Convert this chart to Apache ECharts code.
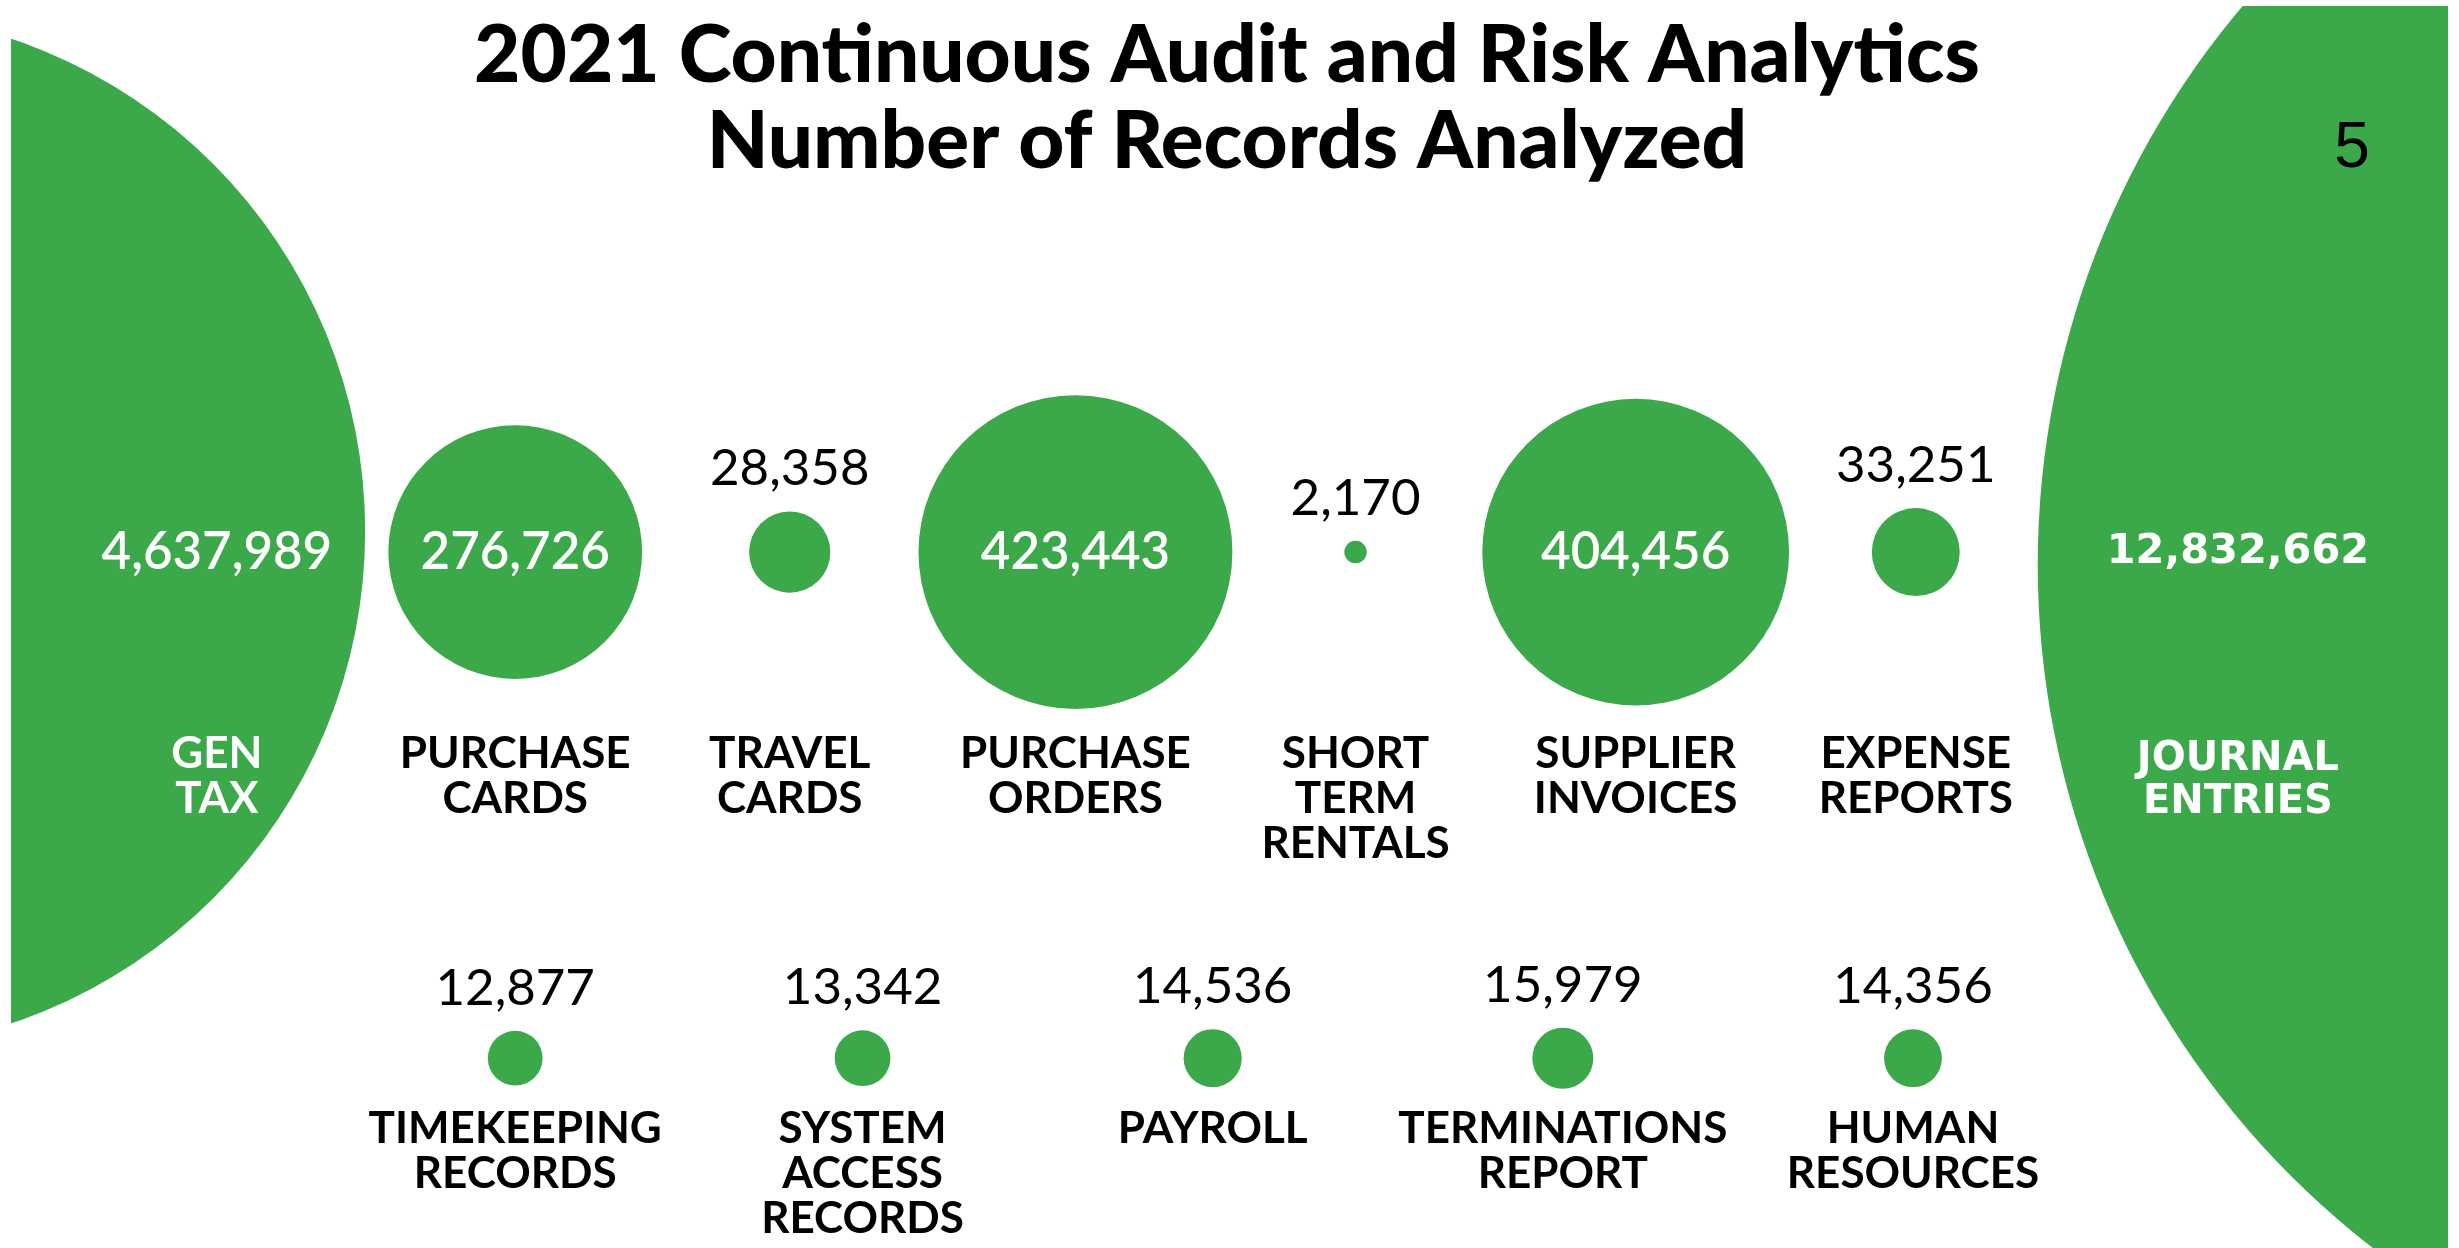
<!DOCTYPE html>
<html><head><meta charset="utf-8">
<script src="https://cdn.jsdelivr.net/npm/echarts@6/dist/echarts.min.js"></script>
<style>html,body{margin:0;padding:0;background:#fff}#chart{width:2459px;height:1248px}</style>
</head><body><div id="chart"></div>
<script>
// ---------- DATA ----------
const topCategories = ['GEN\nTAX', 'PURCHASE\nCARDS', 'TRAVEL\nCARDS', 'PURCHASE\nORDERS', 'SHORT\nTERM\nRENTALS', 'SUPPLIER\nINVOICES', 'EXPENSE\nREPORTS', 'JOURNAL\nENTRIES'];
const topRecords = [4637989, 276726, 28358, 423443, 2170, 404456, 33251, 12832662];
const bottomCategories = ['TIMEKEEPING\nRECORDS', 'SYSTEM\nACCESS\nRECORDS', 'PAYROLL', 'TERMINATIONS\nREPORT', 'HUMAN\nRESOURCES'];
const bottomRecords = [12877, 13342, 14536, 15979, 14356];
const titleLines = ['2021 Continuous Audit and Risk Analytics', 'Number of Records Analyzed'];
const pageNumber = '5';

// ---------- LAYOUT (slots, not data) ----------
const topBubbleSlot = [-1.39, 1, 1.98, 3, 4, 5, 6, 9.52];
const topBubbleRow  = [-0.0415, 0, 0, 0, 0, 0, 0, 0.025];
const topLabelSlot  = [-0.065, 1, 1.98, 3, 4, 5, 6, 7.15];
const bottomSlot    = [1, 2.24, 3.49, 4.74, 5.99];
const TOP_ROW = 0, BOTTOM_ROW = 1;
const TOP_NAME_ROW = 0.355, BOTTOM_NAME_ROW = 1.096, JOURNAL_NAME_ROW = 0.367;
const EDGE = [0, 7];   // indexes of edge (oversized) bubbles

const GREEN = '#3ba84a';
const FONT = 'Lato';
const K = 0.2412;
const diam = v => 2 * K * Math.sqrt(v);
const fmt = v => v.toLocaleString('en-US');

function bubbleItem(v, x, y, hideLabel) {
  const big = diam(v) > 150;
  return {
    value: [x, y, v],
    label: hideLabel ? { show: false } : (big ? {
      show: true, position: 'inside', color: '#fff', fontFamily: FONT, fontWeight: 600, fontSize: 51
    } : {
      show: true, position: 'top', distance: 17, color: '#000', fontFamily: FONT, fontWeight: 400, fontSize: 51
    })
  };
}

const bubbleData = topRecords.map((v, i) => bubbleItem(v, topBubbleSlot[i], topBubbleRow[i], EDGE.includes(i)))
  .concat(bottomRecords.map((v, i) => bubbleItem(v, bottomSlot[i], BOTTOM_ROW, false)));

const nameData = topCategories.map((c, i) => {
  const item = { name: c, value: [topLabelSlot[i], i === 7 ? JOURNAL_NAME_ROW : TOP_NAME_ROW] };
  if (i === 0) item.label = { color: '#fff' };
  if (i === 7) item.label = { color: '#fff', fontFamily: 'DejaVu Sans', fontWeight: 'bold', fontSize: 40, lineHeight: 43 };
  return item;
}).concat(bottomCategories.map((c, i) => ({ name: c, value: [bottomSlot[i], BOTTOM_NAME_ROW] })));

const edgeValueData = EDGE.map(i => {
  const item = { name: fmt(topRecords[i]), value: [topLabelSlot[i], TOP_ROW] };
  if (i === 7) item.label = { fontFamily: 'DejaVu Sans', fontWeight: 'bold', fontSize: 41.5 };
  return item;
});

const W = 2459, H = 1248, ML = 11, MR = 11, MT = 6;
const chart = echarts.init(document.getElementById('chart'), null, { renderer: 'canvas' });
chart.setOption({
  animation: false,
  backgroundColor: '#fff',
  title: [{
    text: titleLines.join('\n'),
    left: 1222, top: 8, textAlign: 'center',
    textStyle: { fontFamily: FONT, fontWeight: 900, fontSize: 80, lineHeight: 86, color: '#000' }
  }, {
    text: pageNumber,
    left: 2347, top: 112, textAlign: 'center',
    textStyle: { fontFamily: 'Liberation Sans', fontWeight: 'normal', fontSize: 64, color: '#000' }
  }],
  // white page margins framing the picture area
  graphic: [
    { type: 'rect', left: 0, top: 0, z: 50, shape: { width: ML, height: H }, style: { fill: '#fff' } },
    { type: 'rect', right: 0, top: 0, z: 50, shape: { width: MR, height: H }, style: { fill: '#fff' } },
    { type: 'rect', left: 0, top: 0, z: 50, shape: { width: W, height: MT }, style: { fill: '#fff' } }
  ],
  grid: { left: ML, right: MR, top: MT, bottom: 0 },
  xAxis: { type: 'value', min: -0.8, max: 7.9, show: false },
  yAxis: { type: 'value', min: -1.079, max: 1.375, inverse: true, show: false },
  series: [{
    type: 'scatter',
    clip: false,
    symbol: 'circle',
    symbolSize: val => diam(val[2]),
    itemStyle: { color: GREEN, opacity: 1 },
    label: { formatter: p => fmt(p.value[2]) },
    data: bubbleData,
    z: 1
  }, {
    type: 'scatter',
    symbolSize: 1,
    itemStyle: { color: 'rgba(0,0,0,0)', opacity: 1 },
    label: {
      show: true, position: 'inside', formatter: '{b}',
      align: 'center', verticalAlign: 'top',
      color: '#000', fontFamily: FONT, fontWeight: 'bold', fontSize: 44, lineHeight: 45
    },
    data: nameData,
    z: 3
  }, {
    type: 'scatter',
    symbolSize: 1,
    itemStyle: { color: 'rgba(0,0,0,0)', opacity: 1 },
    label: {
      show: true, position: 'inside', formatter: '{b}',
      color: '#fff', fontFamily: FONT, fontWeight: 600, fontSize: 51
    },
    data: edgeValueData,
    z: 3
  }]
});
</script></body></html>
